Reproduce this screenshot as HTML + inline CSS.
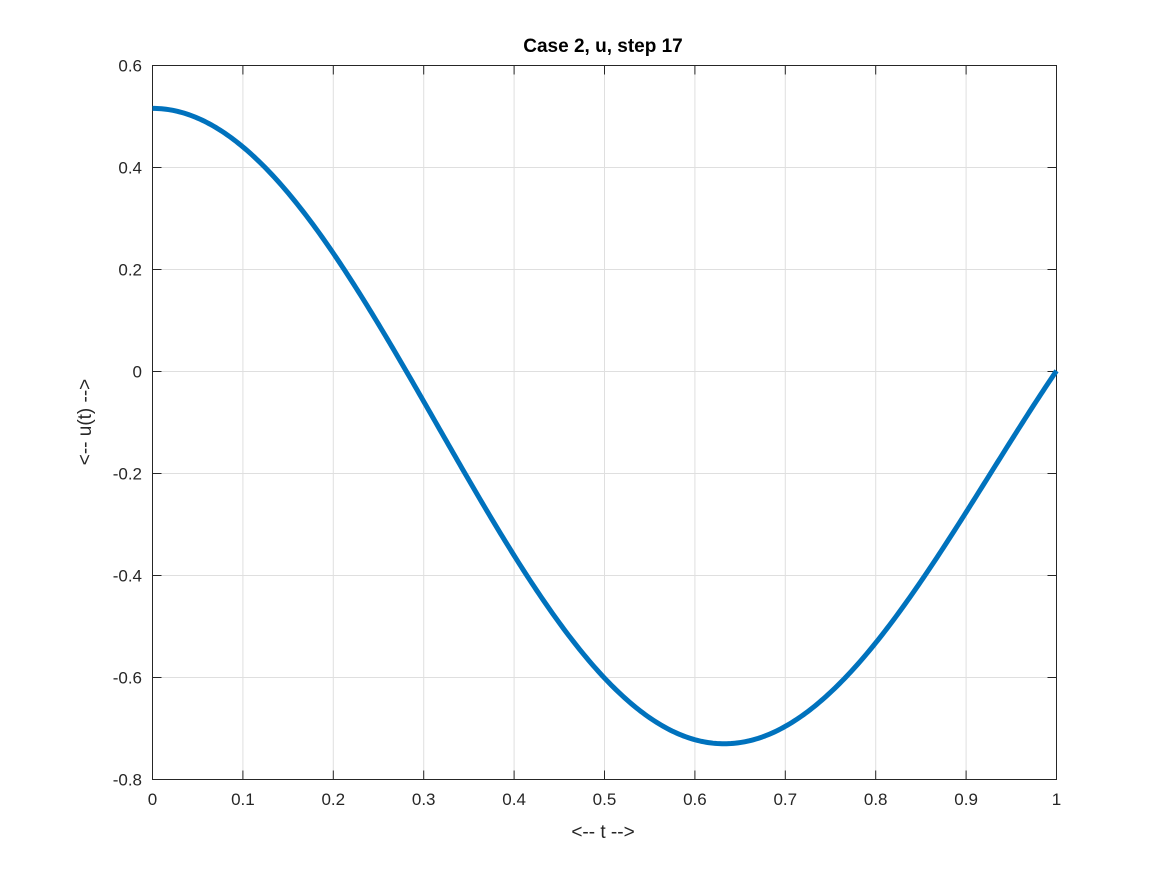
<!DOCTYPE html>
<html><head><meta charset="utf-8"><style>
html,body{margin:0;padding:0;background:#fff;}
svg{display:block;font-family:"Liberation Sans","DejaVu Sans",sans-serif;}
</style></head><body>
<svg id="s" width="1167" height="875" viewBox="0 0 1167 875" xmlns="http://www.w3.org/2000/svg">
<rect width="1167" height="875" fill="#fff"/>
<g id="grid" stroke="#dfdfdf" stroke-width="1"></g>
<rect x="152.5" y="65.5" width="904" height="714" fill="none" stroke="#262626" stroke-width="1"/>
<g id="ticks" stroke="#262626" stroke-width="1"></g>
<g id="labels" fill="#262626" font-size="17"></g>
<path id="curve" fill="none" stroke="#0072BD" stroke-width="5" stroke-linejoin="round" stroke-linecap="butt"/>
<text x="603" y="52" text-anchor="middle" font-size="19" font-weight="bold" fill="#000">Case 2, u, step 17</text>
<text x="603" y="838" text-anchor="middle" font-size="19" fill="#262626">&lt;-- t --&gt;</text>
<text transform="translate(91,422) rotate(-90)" text-anchor="middle" font-size="19" fill="#262626">&lt;-- u(t) --&gt;</text>
</svg>
<script>
var ns="http://www.w3.org/2000/svg";
function el(p,t,a,txt){var e=document.createElementNS(ns,t);for(var k in a)e.setAttribute(k,a[k]);if(txt!==undefined)e.textContent=txt;document.getElementById(p).appendChild(e);}
var x0=152.5,x1=1056.5,y0=65.5,y1=779.5;
for(var i=0;i<=10;i++){var x=x0+(x1-x0)*i/10;
 if(i>0&&i<10)el("grid","line",{x1:x,y1:y0,x2:x,y2:y1});
 el("ticks","line",{x1:x,y1:y1,x2:x,y2:y1-9});el("ticks","line",{x1:x,y1:y0,x2:x,y2:y0+9});
 var l=i==0?"0":i==10?"1":(i/10).toFixed(1);
 el("labels","text",{x:x,y:805,"text-anchor":"middle"},l);}
var yl=["0.6","0.4","0.2","0","-0.2","-0.4","-0.6","-0.8"];
for(var j=0;j<=7;j++){var y=y0+(y1-y0)*j/7;
 if(j>0&&j<7)el("grid","line",{x1:x0,y1:y,x2:x1,y2:y});
 el("ticks","line",{x1:x0,y1:y,x2:x0+9,y2:y});el("ticks","line",{x1:x1,y1:y,x2:x1-9,y2:y});
 el("labels","text",{x:142,y:y+6,"text-anchor":"end"},yl[j]);}
var d="";
for(var k=0;k<=400;k++){var t=k/400;
 var u=0.621*Math.cos(4.987*t)-0.106-0.062*Math.pow(t,6);
 var px=152.5+904*t, py=371-510*u;
 d+=(k?"L":"M")+px.toFixed(2)+","+py.toFixed(2);}
document.getElementById("curve").setAttribute("d",d);
</script>
</body></html>
